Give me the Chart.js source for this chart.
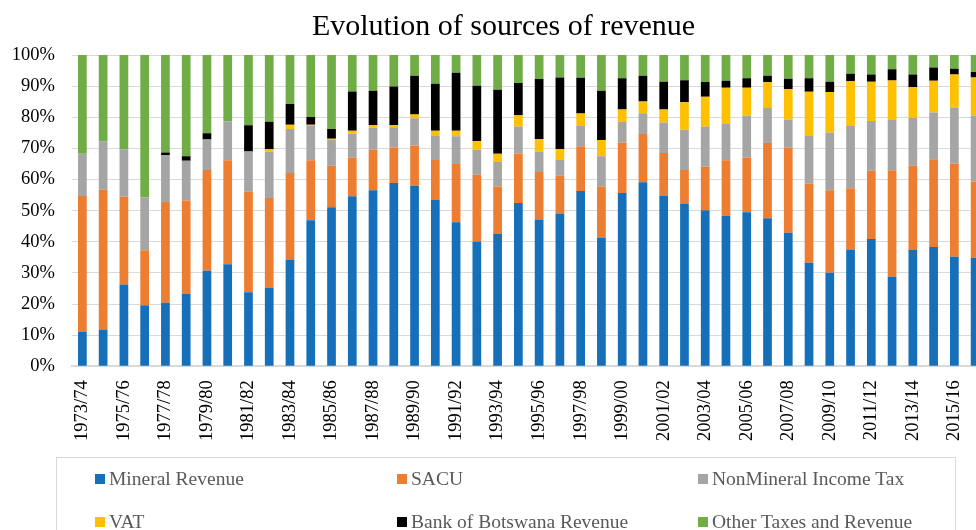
<!DOCTYPE html>
<html>
<head>
<meta charset="utf-8">
<title>Evolution of sources of revenue</title>
<script src="https://cdn.jsdelivr.net/npm/chart.js@4.4.1/dist/chart.umd.min.js"></script>
<style>
  html, body { margin: 0; padding: 0; background: #fff; overflow: hidden; }
  #wrap { position: relative; width: 976px; height: 530px; overflow: hidden; background: #fff; }
  #chart { position: absolute; left: 0; top: 0; }
  #title {
    position: absolute; left: 0; top: 8px; width: 1007px; text-align: center;
    font: 30px/34px "Liberation Serif", "Times New Roman", serif; color: #000;
  }
  #legend {
    position: absolute; left: 56px; top: 457px; width: 900px; height: 120px;
    border: 1.5px solid #d9d9d9; box-sizing: border-box;
  }
  .item {
    position: absolute; display: flex; align-items: center; white-space: nowrap;
    font: 19.5px/22px "Liberation Serif", "Times New Roman", serif; color: #595959;
  }
  .item i { display: inline-block; width: 10px; height: 10px; margin-right: 4px; }
</style>
</head>
<body>
<div id="wrap">
  <canvas id="chart" width="990" height="465"></canvas>
  <div id="title">Evolution of sources of revenue</div>
  <div id="legend"></div>
</div>
<script>
// años fiscales
const years = ["1973/74", "1974/75", "1975/76", "1976/77", "1977/78", "1978/79", "1979/80", "1980/81",
  "1981/82", "1982/83", "1983/84", "1984/85", "1985/86", "1986/87", "1987/88", "1988/89", "1989/90",
  "1990/91", "1991/92", "1992/93", "1993/94", "1994/95", "1995/96", "1996/97", "1997/98", "1998/99",
  "1999/00", "2000/01", "2001/02", "2002/03", "2003/04", "2004/05", "2005/06", "2006/07", "2007/08",
  "2008/09", "2009/10", "2010/11", "2011/12", "2012/13", "2013/14", "2014/15", "2015/16", "2016/17"];

// shares of total revenue, %
const mineral = [11.0, 11.8, 26.3, 19.6, 20.4, 23.3, 30.7, 32.8, 23.8, 25.2, 34.3, 46.9, 51.1, 54.6, 56.6,
  58.9, 58.0, 53.4, 46.3, 40.1, 42.5, 52.5, 47.2, 49.1, 56.3, 41.4, 55.7, 59.1, 54.9, 52.3, 50.1, 48.3,
  49.5, 47.6, 42.9, 33.3, 30.1, 37.5, 40.9, 28.8, 37.4, 38.3, 35.2, 34.9];
const sacu = [43.7, 44.9, 28.2, 17.7, 32.4, 30.0, 32.4, 33.4, 32.3, 28.9, 27.8, 19.3, 13.3, 12.4, 13.0,
  11.4, 12.9, 12.9, 18.7, 21.4, 15.3, 15.9, 15.2, 12.1, 14.4, 16.4, 16.1, 15.5, 13.6, 10.8, 14.0, 17.9,
  17.6, 24.1, 27.3, 25.4, 26.5, 19.7, 21.9, 34.2, 27.0, 28.2, 29.9, 24.5];
const nonMineral = [13.6, 15.6, 15.2, 16.9, 15.0, 12.7, 9.8, 12.5, 12.9, 14.8, 14.1, 11.0, 8.4, 7.7, 7.0,
  6.5, 8.8, 7.7, 8.9, 8.1, 7.8, 8.6, 6.6, 5.1, 6.5, 9.7, 6.7, 6.7, 9.8, 12.9, 12.9, 11.6, 13.4, 11.3,
  9.0, 15.3, 18.5, 20.0, 16.0, 16.1, 15.4, 15.0, 18.0, 21.2];
const vat = [0, 0, 0, 0, 0, 0, 0, 0, 0, 0.8, 1.4, 0.4, 0.3, 1.0, 0.9, 0.6, 1.2, 1.7, 1.8, 2.7, 2.7, 3.7,
  4.0, 3.5, 4.0, 5.2, 4.0, 3.8, 4.2, 8.8, 9.6, 11.7, 9.0, 8.3, 9.9, 14.2, 13.0, 14.4, 12.6, 12.7, 9.9,
  10.2, 10.6, 12.2];
const bankOfBotswana = [0, 0, 0, 0, 0.9, 1.5, 2.0, 0, 8.4, 8.9, 6.7, 2.5, 3.1, 12.6, 11.0, 12.5, 12.4,
  15.1, 18.6, 17.8, 20.5, 10.3, 19.3, 23.0, 11.5, 15.8, 10.0, 8.2, 8.9, 7.1, 4.7, 2.2, 3.0, 2.0, 3.3,
  4.3, 3.3, 2.4, 2.3, 3.6, 4.0, 4.3, 1.9, 1.7];
const otherTaxes = [31.7, 27.7, 30.3, 45.8, 31.3, 32.5, 25.1, 21.3, 22.6, 21.4, 15.7, 19.9, 23.8, 11.7,
  11.5, 10.1, 6.7, 9.2, 5.7, 9.9, 11.2, 9.0, 7.7, 7.2, 7.3, 11.5, 7.5, 6.7, 8.6, 8.1, 8.7, 8.3, 7.5,
  6.7, 7.6, 7.5, 8.6, 6.0, 6.3, 4.6, 6.3, 4.0, 4.4, 5.5];

const yTicks = [0, 10, 20, 30, 40, 50, 60, 70, 80, 90, 100];

const series = [
  { label: "Mineral Revenue", data: mineral, color: "#1570b9" },
  { label: "SACU", data: sacu, color: "#ed7d31" },
  { label: "NonMineral Income Tax", data: nonMineral, color: "#a5a5a5" },
  { label: "VAT", data: vat, color: "#ffc000" },
  { label: "Bank of Botswana Revenue", data: bankOfBotswana, color: "#000000" },
  { label: "Other Taxes and Revenue", data: otherTaxes, color: "#70ad47" },
];

const serif = "'Liberation Serif', 'Times New Roman', serif";
Chart.defaults.font.family = serif;

const ctx = document.getElementById("chart").getContext("2d");
new Chart(ctx, {
  type: "bar",
  data: {
    labels: years,
    datasets: series.map(s => ({
      label: s.label,
      data: s.data,
      backgroundColor: s.color,
      borderWidth: 0,
      barPercentage: 0.42,
      categoryPercentage: 1,
    })),
  },
  options: {
    responsive: false,
    animation: false,
    layout: { padding: { left: 12, right: 4.5, top: 55, bottom: 10 } },
    plugins: {
      legend: { display: false },
      title: { display: false },
      tooltip: { enabled: false },
    },
    scales: {
      x: {
        stacked: true,
        grid: { display: false, drawTicks: false },
        border: { color: "#d9d9d9", width: 2 },
        ticks: {
          autoSkip: false,
          minRotation: 90,
          maxRotation: 90,
          padding: 14,
          color: "#000",
          font: { size: 18.5 },
          callback: (v, i) => (i % 2 === 0 ? years[i] : ""),
        },
        afterFit: (scale) => { scale.paddingLeft = 0; scale.paddingRight = 0; },
      },
      y: {
        stacked: true,
        min: 0,
        max: 100,
        afterBuildTicks: (scale) => { scale.ticks = yTicks.map(v => ({ value: v })); },
        grid: { color: "#d9d9d9", lineWidth: 1, drawTicks: false },
        border: { display: false },
        ticks: {
          padding: 17,
          color: "#000",
          font: { size: 18.5 },
          callback: (v) => v + "%",
        },
        afterFit: (scale) => { scale.width = 60; },
      },
    },
  },
});

// leyenda en HTML, tres columnas
const legend = document.getElementById("legend");
const colX = [94, 396, 697];
const rowTop = [466.5, 510];
series.forEach((s, i) => {
  const div = document.createElement("div");
  div.className = "item";
  div.style.left = (colX[i % 3] - 56) + "px";
  div.style.top = (rowTop[Math.floor(i / 3)] - 457) + "px";
  div.innerHTML = '<i style="background:' + s.color + '"></i>' + s.label;
  legend.appendChild(div);
});
</script>
</body>
</html>
